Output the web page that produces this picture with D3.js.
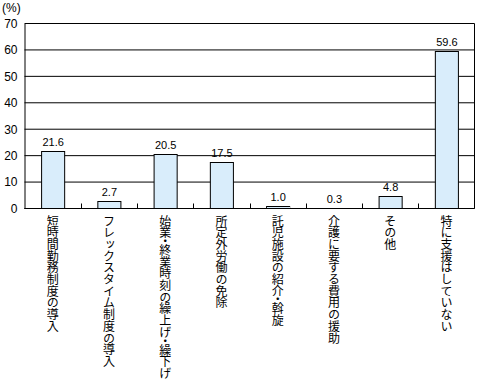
<!DOCTYPE html>
<html><head><meta charset="utf-8">
<script src="https://cdn.jsdelivr.net/npm/d3@7/dist/d3.min.js"></script>
<style>
html,body{margin:0;padding:0;background:#fff;}
svg{display:block;font-family:"Liberation Sans","DejaVu Sans",sans-serif;}
.cat{font-family:"Noto Sans CJK JP",sans-serif;font-size:12px;writing-mode:vertical-rl;}
</style></head>
<body>
<svg id="c" width="479" height="382"></svg>
<script>
const categories = ["短時間勤務制度の導入","フレックスタイム制度の導入","始業・終業時刻の繰上げ・繰下げ","所定外労働の免除","託児施設の紹介・斡旋","介護に要する費用の援助","その他","特に支援はしていない"];
const values = [21.6, 2.7, 20.5, 17.5, 1.0, 0.3, 4.8, 59.6];
const yTicks = [0,10,20,30,40,50,60,70];
const unitLabel = "(%)";

const svg = d3.select("#c");
const L=24.5, R=474.5, T=23.5, B=208.5;
const x = d3.scaleBand().domain(categories).range([L,R]).paddingInner(0.59).paddingOuter(0.295);
const xb = d3.scaleBand().domain(categories).range([L,R]);
const y = d3.scaleLinear().domain([0,70]).range([B,T]);

// gridlines
svg.append("g").selectAll("line").data(yTicks).join("line")
  .attr("x1",L).attr("x2",R).attr("y1",d=>y(d)).attr("y2",d=>y(d))
  .attr("stroke","#000").attr("stroke-width",1);
// right border
svg.append("line").attr("x1",R).attr("x2",R).attr("y1",T).attr("y2",B).attr("stroke","#000");

// y axis
const ya = svg.append("g").attr("transform",`translate(${L},0)`).call(d3.axisLeft(y).tickValues(yTicks).tickSize(0).tickPadding(7));
ya.select(".domain").attr("stroke","#000");
ya.selectAll("text").attr("font-size",12).attr("fill","#000").attr("font-family","Liberation Sans, sans-serif");

// bars
svg.append("g").selectAll("rect").data(values).join("rect")
  .attr("x",(d,i)=>x(categories[i])+0.5).attr("width",x.bandwidth())
  .attr("y",d=>Math.round(y(d))+0.5).attr("height",d=>B-Math.round(y(d))-0.5)
  .attr("fill","#d9edfb").attr("stroke","#000").attr("stroke-width",1);

// value labels
svg.append("g").selectAll("text").data(values).join("text")
  .attr("x",(d,i)=>x(categories[i])+x.bandwidth()/2+0.5).attr("y",d=>y(d)-5)
  .attr("text-anchor","middle").attr("font-size",11).attr("fill","#000")
  .text(d=>d.toFixed(1));

// x axis with between-category ticks
svg.append("line").attr("x1",L).attr("x2",R).attr("y1",B).attr("y2",B).attr("stroke","#000");
svg.append("g").selectAll("line").data(categories.slice(1)).join("line")
  .attr("x1",d=>Math.round(xb(d))+0.5).attr("x2",d=>Math.round(xb(d))+0.5)
  .attr("y1",B).attr("y2",B-5).attr("stroke","#000");

// category labels: vertical, one glyph per element, middle dots set half-width
const catG = svg.append("g");
categories.forEach(c => {
  const cx = xb(c) + xb.bandwidth()/2;
  let yy = 215;
  Array.from(c).forEach(ch => {
    const half = ch === "・";
    catG.append("text").attr("class","cat")
      .attr("x", cx).attr("y", half ? yy - 3 : yy)
      .attr("fill","#000").text(ch);
    yy += half ? 6 : 11.7;
  });
});

svg.append("text").attr("x",2).attr("y",12).attr("font-size",12).attr("fill","#000").text(unitLabel);
</script>
</body></html>
